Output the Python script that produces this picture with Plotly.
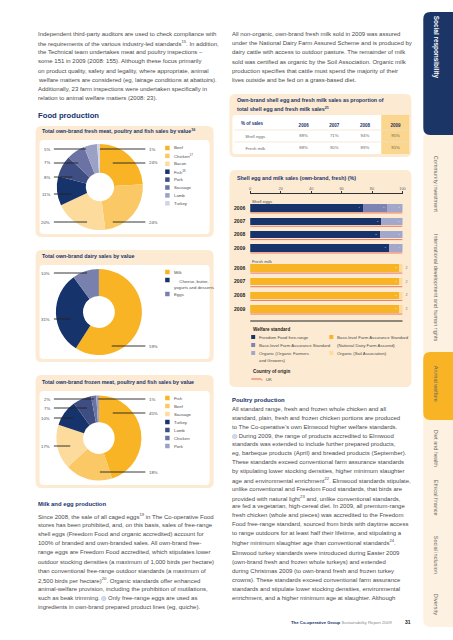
import plotly.graph_objects as go

W, H = 453, 640
def X(p): return p / W
def Y(p): return 1 - p / H

# ---------------- data ----------------
fresh_labels = ["Beef", "Chicken<sup>17</sup>", "Bacon", "Fish<sup>18</sup>", "Pork", "Sausage", "Lamb", "Turkey"]
fresh_values = [24, 24, 20, 11, 8, 7, 5, 1]

dairy_labels = ["Milk", "Cheese, butter,<br>yogurts and desserts", "Eggs"]
dairy_values = [59, 31, 10]

frozen_labels = ["Fish", "Beef", "Sausage", "Turkey", "Lamb", "Chicken", "Pork"]
frozen_values = [45, 18, 17, 10, 7, 2, 1]

table_corner = "% of sales"
table_years = ["2006", "2007", "2008", "2009"]
table_rows = ["Shell eggs", "Fresh milk"]
shell_egg_share = ["88%", "71%", "94%", "95%"]
fresh_milk_share = ["88%", "90%", "89%", "91%"]

years = ["2006", "2007", "2008", "2009"]
egg_freedom_food = [74, 86, 85, 91]
egg_base_level = [16, None, None, None]
egg_organic = [10, 14, 15, 9]
milk_base_level = [98, 98, 98, 98]
milk_organic = [2, 2, 2, 2]
x_ticks = [0, 20, 40, 60, 80, 100]

# ---------------- styles ----------------
FONT = "Liberation Sans, Arial, sans-serif"
NAVY = "#17336C"
NAVY2 = "#3E4D82"
BLUE3 = "#6A73A4"
BLUE4 = "#9BA1C5"
BLUE5 = "#D0D3E6"
GOLD = "#F8B424"
GOLD2 = "#FAC965"
GOLD3 = "#FCDB9C"
BEIGE = "#FCEBD2"
TXT = "#4a4a4a"
RED = "#E5573F"
BODY = 6.0
SMALL = 4.3
TITLE = 5.3

fresh_colors = [GOLD, GOLD2, GOLD3, NAVY, NAVY2, BLUE3, BLUE4, BLUE5]
dairy_colors = [GOLD, NAVY, "#7880AD"]
frozen_colors = [GOLD, GOLD2, GOLD3, NAVY, NAVY2, BLUE3, BLUE4]

fig = go.Figure()
shapes = []
ann = []

def text(x, y, s, size=BODY, color=TXT, anchor="left", angle=0, yanchor="middle"):
    ann.append(dict(x=X(x), y=Y(y), xref="paper", yref="paper", text=s, showarrow=False,
                    xanchor=anchor, yanchor=yanchor, textangle=angle,
                    font=dict(family=FONT, size=size, color=color)))

def rrect(x0, y0, x1, y1, r, fill, layer="below"):
    rx, ry = r / W, r / H
    a0, a1, b0, b1 = X(x0), X(x1), Y(y0), Y(y1)
    p = (f"M {a0+rx},{b0} L {a1-rx},{b0} Q {a1},{b0} {a1},{b0-ry} "
         f"L {a1},{b1+ry} Q {a1},{b1} {a1-rx},{b1} L {a0+rx},{b1} Q {a0},{b1} {a0},{b1+ry} "
         f"L {a0},{b0-ry} Q {a0},{b0} {a0+rx},{b0} Z")
    shapes.append(dict(type="path", path=p, xref="paper", yref="paper", fillcolor=fill,
                       line=dict(width=0), layer=layer))

def hline(x0, x1, y, color="#222", width=0.9, layer="above"):
    shapes.append(dict(type="line", xref="paper", yref="paper", x0=X(x0), x1=X(x1), y0=Y(y), y1=Y(y),
                       line=dict(color=color, width=width), layer=layer))

def square(x, y, color, s=4.5):
    shapes.append(dict(type="rect", xref="paper", yref="paper", x0=X(x), x1=X(x + s),
                       y0=Y(y + s / 2), y1=Y(y - s / 2), fillcolor=color, line=dict(width=0), layer="above"))

def lines(x, y0, step, items, size=BODY, color=TXT):
    for i, s in enumerate(items):
        text(x, y0 + i * step, s, size=size, color=color)

# ---------------- left column text ----------------
lines(35, 34, 9.15, [
    "Independent third-party auditors are used to check compliance with",
    "the requirements of the various industry-led standards<sup>15</sup>. In addition,",
    "the Technical team undertakes meat and poultry inspections –",
    "some 151 in 2009 (2008: 155). Although these focus primarily",
    "on product quality, safety and legality, where appropriate, animal",
    "welfare matters are considered (eg, lairage conditions at abattoirs).",
    "Additionally, 23 farm inspections were undertaken specifically in",
    "relation to animal welfare matters (2008: 23).",
])
text(35, 115, "<b>Food production</b>", size=7.7, color=NAVY)

# ---------------- donut boxes ----------------
boxes = [(126, 237, 131, 140, 234), (250, 362, 256, 265, 359), (375, 488, 382, 391, 485)]
titles = ["<b>Total own-brand fresh meat, poultry and fish sales by value<sup>16</sup></b>",
          "<b>Total own-brand dairy sales by value</b>",
          "<b>Total own-brand frozen meat, poultry and fish sales by value</b>"]
for (t, b, ty, it, ib), ttl in zip(boxes, titles):
    rrect(35, t, 215, b, 6, BEIGE)
    rrect(39, it, 211, ib, 4, "white")
    text(39, ty, ttl, size=TITLE, color=NAVY)

pies = [
    (fresh_labels, fresh_values, fresh_colors, (100, 187, 43.5), 0.33,
     [("r", 163, 113), ("r", 222, 113), ("l", 222, 87), ("l", 194, 71), ("l", 177, 72),
      ("l", 163, 78), ("l", 149, 86), ("r", 149, 100)], 148, 7.9),
    (dairy_labels, dairy_values, dairy_colors, (99, 312, 43.5), 0.37,
     [("r", 346, 112), ("l", 319, 70), ("l", 273, 87)], 272, None),
    (frozen_labels, frozen_values, frozen_colors, (99, 438, 43), 0.37,
     [("r", 413, 113), ("r", 472, 100), ("l", 446, 70), ("l", 418, 73), ("l", 408, 87),
      ("l", 399, 94), ("r", 399, 98)], 398, 8.0),
]
for labels, values, colors, (cx, cy, r), hole, lpos, leg_y, leg_step in pies:
    fig.add_trace(go.Pie(labels=labels, values=values, hole=hole, sort=False, direction="clockwise",
                         rotation=0, textinfo="none", hoverinfo="label+percent", showlegend=False,
                         marker=dict(colors=colors, line=dict(width=0)),
                         domain=dict(x=[X(cx - r), X(cx + r)], y=[Y(cy + r), Y(cy - r)])))
    for v, (side, ly, lx) in zip(values, lpos):
        if side == "l":
            hline(53.5, lx, ly)
            text(51.5, ly, f"{v}%", size=SMALL, anchor="right")
        else:
            hline(lx, 146, ly)
            text(147.5, ly, f"{v}%", size=SMALL)
    ys = [272, 280, 294] if leg_step is None else [leg_y + i * leg_step for i in range(len(labels))]
    for lab, col, yy in zip(labels, colors, ys):
        square(166, yy, col)
        if "<br>" in lab:
            text(172.5, yy - 3, lab, size=SMALL, yanchor="top")
        else:
            text(172.5, yy, lab, size=SMALL)

# ---------------- milk and egg text ----------------
text(35, 504, "<b>Milk and egg production</b>", size=5.9, color=NAVY)
ICON = "<span style='color:#3C6FB5'>◎</span>"
lines(35, 516, 9.1, [
    "Since 2008, the sale of all caged eggs<sup>19</sup> in The Co-operative Food",
    "stores has been prohibited, and, on this basis, sales of free-range",
    "shell eggs (Freedom Food and organic accredited) account for",
    "100% of branded and own-branded sales. All own-brand free-",
    "range eggs are Freedom Food accredited, which stipulates lower",
    "outdoor stocking densities (a maximum of 1,000 birds per hectare)",
    "than conventional free-range outdoor standards (a maximum of",
    "2,500 birds per hectare)<sup>20</sup>. Organic standards offer enhanced",
    "animal-welfare provision, including the prohibition of mutilations,",
    f"such as beak trimming. {ICON} Only free-range eggs are used as",
    "ingredients in own-brand prepared product lines (eg, quiche).",
])

# ---------------- right column text ----------------
lines(232, 34, 9.2, [
    "All non-organic, own-brand fresh milk sold in 2009 was assured",
    "under the National Dairy Farm Assured Scheme and is produced by",
    "dairy cattle with access to outdoor pasture. The remainder of milk",
    "sold was certified as organic by the Soil Association. Organic milk",
    "production specifies that cattle must spend the majority of their",
    "lives outside and be fed on a grass-based diet.",
])

# ---------------- table ----------------
rrect(231, 94, 415, 157, 6, BEIGE)
rrect(234, 115, 413, 154, 3, "white")
shapes.append(dict(type="rect", xref="paper", yref="paper", x0=X(384.5), x1=X(413), y0=Y(154), y1=Y(115),
                   fillcolor="#FBD68E", line=dict(width=0), layer="below"))
hline(236, 411, 130, color="#EFE2CC", width=0.7, layer="below")
hline(236, 411, 142, color="#EFE2CC", width=0.7, layer="below")
text(237, 100, "<b>Own-brand shell egg and fresh milk sales as proportion of</b>", size=TITLE, color=NAVY)
text(237, 108.5, "<b>total shell egg and fresh milk sales<sup>21</sup></b>", size=TITLE, color=NAVY)
text(241, 124, f"<b>{table_corner}</b>", size=4.5, color=NAVY)

cell_x, cell_y, cell_t = [], [], []
for row, vals in zip(table_rows, [shell_egg_share, fresh_milk_share]):
    for yr, v in zip(table_years, vals):
        cell_x.append(yr); cell_y.append(row); cell_t.append(v)
fig.add_trace(go.Scatter(x=cell_x, y=cell_y, text=cell_t, mode="text", textposition="middle center",
                         textfont=dict(family=FONT, size=SMALL, color="#666"), hoverinfo="skip",
                         showlegend=False, xaxis="x3", yaxis="y3", cliponaxis=False))

# ---------------- bar chart ----------------
rrect(231, 170, 415, 387, 6, BEIGE)
text(237, 178, "<b>Shell egg and milk sales (own-brand, fresh) (%)</b>", size=TITLE, color=NAVY)
text(252, 201, "Shell eggs", size=SMALL)
text(252, 261, "Fresh milk", size=SMALL)

def bar(xv, name, color, xa, ya, pos="inside", tcol="white"):
    fig.add_trace(go.Bar(x=xv, y=years, orientation="h", name=name, marker=dict(color=color, line=dict(width=0)),
                         texttemplate="%{x}", textposition=pos, insidetextanchor="end", textangle=0,
                         textfont=dict(family=FONT, size=3.8, color=tcol), cliponaxis=False,
                         xaxis=xa, yaxis=ya, showlegend=False))
bar(egg_freedom_food, "Freedom Food free-range", NAVY, "x", "y")
bar(egg_base_level, "Base-level Farm Assurance Standard", "#7C84B2", "x", "y")
bar(egg_organic, "Organic (Organic Farmers and Growers)", "#A3A8CA", "x", "y")
bar(milk_base_level, "Base-level Farm Assurance Standard (National Dairy Farm Assured)", GOLD, "x2", "y2")
bar(milk_organic, "Organic (Soil Association)", GOLD3, "x2", "y2", pos="outside", tcol="#777")

for ya, xa in (("y", "x"), ("y2", "x2")):
    for i, _ in enumerate(years):
        shapes.append(dict(type="line", xref=xa, yref=ya, x0=0, x1=100, y0=i + 0.37, y1=i + 0.37,
                           line=dict(color=RED, width=0.8), layer="above"))
hline(252, 406, 321, color="#222", width=1.1)

# bar legend
text(253, 329, "<b>Welfare standard</b>", size=4.6, color="#222")
square(253, 337, NAVY, 4); text(259, 337, "Freedom Food free-range", size=SMALL)
square(253, 345, "#7C84B2", 4); text(259, 345, "Base-level Farm Assurance Standard", size=SMALL)
square(253, 353, "#A3A8CA", 4); text(259, 353, "Organic (Organic Farmers", size=SMALL)
text(259, 360.5, "and Growers)", size=SMALL)
square(332, 337, GOLD, 4); text(338, 337, "Base-level Farm Assurance Standard", size=SMALL)
text(338, 345, "(National Dairy Farm Assured)", size=SMALL)
square(332, 353, GOLD3, 4); text(338, 353, "Organic (Soil Association)", size=SMALL)
text(253, 371, "<b>Country of origin</b>", size=4.6, color="#222")
hline(253, 263, 379, color=RED, width=0.9)
text(260.5, 379, "<span style='color:#E5573F'>›</span>", size=5)
text(266, 379, "UK", size=SMALL)

# ---------------- poultry text ----------------
text(232, 400, "<b>Poultry production</b>", size=5.9, color=NAVY)
lines(232, 409, 8.85, [
    "All standard range, fresh and frozen whole chicken and all",
    "standard, plain, fresh and frozen chicken portions are produced",
    "to The Co-operative’s own Elmwood higher welfare standards.",
    f"{ICON} During 2009, the range of products accredited to Elmwood",
    "standards was extended to include further prepared products,",
    "eg, barbeque products (April) and breaded products (September).",
    "These standards exceed conventional farm assurance standards",
    "by stipulating lower stocking densities, higher minimum slaughter",
    "age and environmental enrichment<sup>22</sup>. Elmwood standards stipulate,",
    "unlike conventional and Freedom Food standards, that birds are",
    "provided with natural light<sup>23</sup> and, unlike conventional standards,",
    "are fed a vegetarian, high-cereal diet. In 2009, all premium-range",
    "fresh chicken (whole and pieces) was accredited to the Freedom",
    "Food free-range standard, sourced from birds with daytime access",
    "to range outdoors for at least half their lifetime, and stipulating a",
    "higher minimum slaughter age than conventional standards<sup>24</sup>.",
])
lines(232, 553, 9.0, [
    "Elmwood turkey standards were introduced during Easter 2009",
    "(own-brand fresh and frozen whole turkeys) and extended",
    "during Christmas 2009 (to own-brand fresh and frozen turkey",
    "crowns). These standards exceed conventional farm assurance",
    "standards and stipulate lower stocking densities, environmental",
    "enrichment, and a higher minimum age at slaughter. Although",
])

# footer
text(397, 622, f"<span style='color:{NAVY}'><b>The Co-operative Group</b></span> Sustainability Report 2009",
     size=4.3, color="#888", anchor="right")
text(406, 622, "<b>31</b>", size=5, color="#222")

# side navigation
rrect(427, 132, 470, 627, 7, "#FDF1E2")
rrect(427, 12, 470, 135, 7, "#1B3566")
rrect(427, 352, 470, 420, 7, GOLD)
text(440, 47, "<b>Social responsibility</b>", size=6.4, color="white", anchor="center", angle=90)
for s, yy in [("Community investment", 184), ("International development and human rights", 288),
              ("Animal welfare", 384), ("Diet and health", 448), ("Ethical finance", 498),
              ("Social inclusion", 555), ("Diversity", 604)]:
    text(440, yy, s, size=5.5, color="#666", anchor="center", angle=90)

fig.update_layout(
    width=W, height=H, margin=dict(l=0, r=0, t=0, b=0),
    paper_bgcolor="white", plot_bgcolor="rgba(0,0,0,0)",
    barmode="stack", bargap=0.47,
    shapes=shapes, annotations=ann,
    font=dict(family=FONT),
    xaxis=dict(domain=[X(252), X(406)], range=[0, 100], side="top", anchor="free", position=Y(193),
               tickvals=x_ticks, ticks="outside", ticklen=2, tickcolor="#333", showline=True,
               linecolor="#333", linewidth=0.8, showgrid=False, zeroline=False,
               tickfont=dict(family=FONT, size=4.0, color="#666"), fixedrange=True),
    yaxis=dict(domain=[Y(254.7), Y(201.3)], anchor="x", type="category", categoryorder="array",
               categoryarray=years, autorange="reversed", showgrid=False, ticks="", ticklabelstandoff=4,
               tickfont=dict(family=FONT, size=5.0, color="#222", weight="bold")),
    xaxis2=dict(domain=[X(252), X(406)], matches="x", anchor="y2", visible=False),
    yaxis2=dict(domain=[Y(315.8), Y(261.2)], anchor="x2", type="category", categoryorder="array",
                categoryarray=years, autorange="reversed", showgrid=False, ticks="", ticklabelstandoff=4,
                tickfont=dict(family=FONT, size=5.0, color="#222", weight="bold")),
    xaxis3=dict(domain=[X(290.5), X(414.5)], type="category", categoryorder="array", categoryarray=table_years,
                range=[-0.5, 3.5], side="top", anchor="free", position=Y(129), ticks="", showline=False,
                showgrid=False, zeroline=False, ticklabelstandoff=1,
                tickfont=dict(family=FONT, size=4.5, color=NAVY, weight="bold")),
    yaxis3=dict(domain=[Y(154), Y(130)], anchor="x3", type="category", categoryorder="array",
                categoryarray=table_rows, range=[1.5, -0.5], ticks="", showline=False, showgrid=False,
                zeroline=False, ticklabelstandoff=22,
                tickfont=dict(family=FONT, size=SMALL, color="#666")),
)

fig.write_html("out.html", config={"displayModeBar": False},
               post_script="document.body.style.margin='0px';")
